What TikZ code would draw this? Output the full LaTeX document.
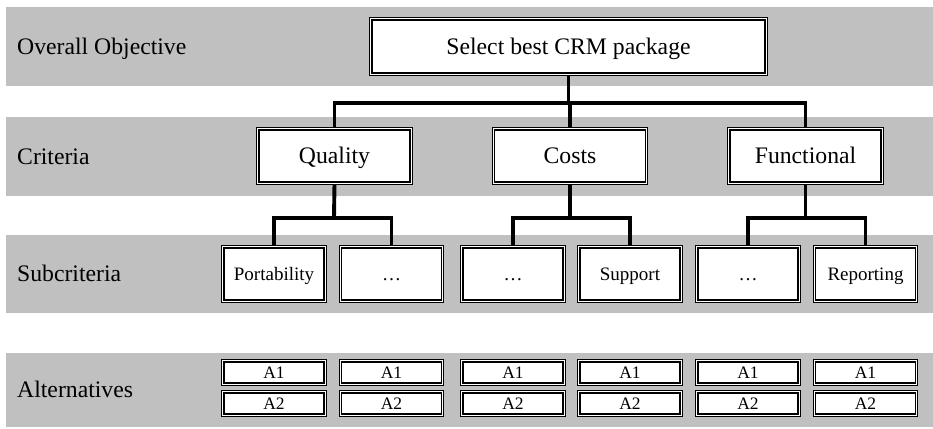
\documentclass[tikz,border=0pt]{standalone}
\usepackage{fontspec}
\setmainfont{Liberation Serif}
\definecolor{bandgray}{RGB}{192,192,192}
\pgfdeclarelayer{bg}
\pgfdeclarelayer{mid}
\pgfsetlayers{bg,mid,main}
\tikzset{
  band/.style={fill=bandgray, draw=none},
  dbox/.style={draw=black, double=white, double distance=1.1pt, line width=1.2pt,
    fill=white, inner sep=0pt, outer sep=0pt, align=center},
  bigtxt/.style={font=\fontsize{23.7}{26}\selectfont, text height=17.5pt, text depth=1.8pt},
  subtxt/.style={font=\fontsize{19}{21}\selectfont, text height=13.8pt, text depth=1.25pt},
  alttxt/.style={font=\fontsize{17.5}{19}\selectfont, text height=12.8pt, text depth=1.25pt},
  mainbox/.style={dbox, bigtxt, minimum width=395.4pt, minimum height=55.4pt},
  critbox/.style={dbox, bigtxt, minimum width=153.4pt, minimum height=54.4pt},
  subbox/.style={dbox, subtxt, minimum width=102.4pt, minimum height=54.4pt},
  altbox/.style={dbox, alttxt, minimum width=102.4pt, minimum height=23.4pt},
  rowlabel/.style={anchor=west, bigtxt, inner sep=0pt},
  conn/.style={line width=3.9pt, line join=miter, draw=black}
}
\begin{document}
\begin{tikzpicture}[x=1pt,y=-1pt]
\useasboundingbox (0,0) rectangle (933,428);
\begin{pgfonlayer}{bg}
  \fill[band] (6,7) rectangle (933,86);
  \fill[band] (6,117) rectangle (933,196);
  \fill[band] (6,235) rectangle (933,313);
  \fill[band] (6,353) rectangle (933,427);
\end{pgfonlayer}
% row labels
\node[rowlabel] (lobj) at (17,46.5) {Overall Objective};
\node[rowlabel] (lcrit) at (17,156.5) {Criteria};
\node[rowlabel] (lsub) at (17,274) {Subcriteria};
\node[rowlabel] (lalt) at (17,390) {Alternatives};
% goal
\node[mainbox] (goal) at (568.5,46.5) {Select best CRM package};
% criteria
\node[critbox] (qual) at (334.5,156) {Quality};
\node[critbox] (cost) at (570,156) {Costs};
\node[critbox] (func) at (805.5,156) {Functional};
% subcriteria
\node[subbox] (s1) at (274,274) {Portability};
\node[subbox] (s2) at (391.5,274) {\dots};
\node[subbox] (s3) at (513,274) {\dots};
\node[subbox] (s4) at (630,274) {Support};
\node[subbox] (s5) at (748,274) {\dots};
\node[subbox] (s6) at (865.5,274) {Reporting};
% alternatives
\foreach \i/\x in {1/274,2/391.5,3/513,4/630,5/748,6/865.5}{
  \node[altbox] (a\i) at (\x,372.5) {A1};
  \node[altbox] (b\i) at (\x,403.5) {A2};
}
% connectors
\coordinate (j0) at (569,103);
\coordinate (jq) at (334,218);
\coordinate (jc) at (570,218);
\coordinate (jf) at (805.5,218);
\begin{pgfonlayer}{mid}
  \draw[conn] (goal.south) -- (goal.south |- j0);
  \draw[conn] (qual.north) -- (qual.north |- j0) -- (func.north |- j0) -- (func.north);
  \draw[conn] (cost.north) -- (cost.north |- j0);
  \draw[conn] (qual.south) -- (jq);
  \draw[conn] (s1.north) -- (s1.north |- jq) -- (s2.north |- jq) -- (s2.north);
  \draw[conn] (cost.south) -- (jc);
  \draw[conn] (s3.north) -- (s3.north |- jc) -- (s4.north |- jc) -- (s4.north);
  \draw[conn] (func.south) -- (jf);
  \draw[conn] (s5.north) -- (s5.north |- jf) -- (s6.north |- jf) -- (s6.north);
\end{pgfonlayer}
\end{tikzpicture}
\end{document}
